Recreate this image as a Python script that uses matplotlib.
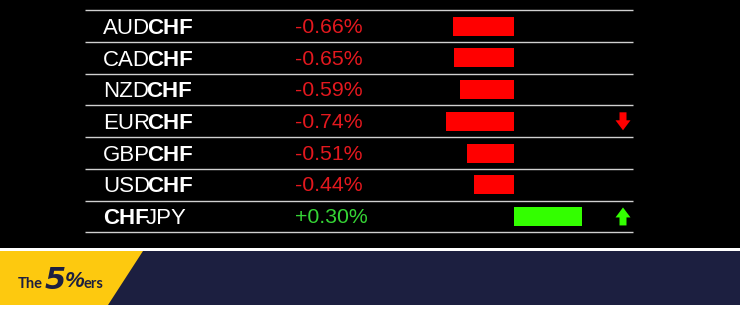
import matplotlib
matplotlib.use("Agg")
import matplotlib.pyplot as plt
from matplotlib.patches import Polygon, Rectangle

# ---- data ----
pairs = ["AUDCHF", "CADCHF", "NZDCHF", "EURCHF", "GBPCHF", "USDCHF", "CHFJPY"]
changes = [-0.66, -0.65, -0.59, -0.74, -0.51, -0.44, 0.30]
bar_values = [-0.66, -0.65, -0.59, -0.74, -0.51, -0.44, 0.74]
arrow_dir = [0, 0, 0, -1, 0, 0, 1]
bold_part = "CHF"

W, H = 740, 309
fig = plt.figure(figsize=(W / 100, H / 100), dpi=100, facecolor="black")
ax = fig.add_axes([0, 0, 1, 1])
ax.set_xlim(0, W)
ax.set_ylim(H, 0)
ax.axis("off")
ax.set_facecolor("black")

FONT = "Liberation Sans"
RED_TXT = "#e3181e"
GRN_TXT = "#35d435"
RED_BAR = "#ff0000"
GRN_BAR = "#33ff00"

top, bottom = 10.3, 232.3
n = len(pairs)
row_h = (bottom - top) / n

# grid lines
for i in range(n + 1):
    y = top + i * row_h
    ax.plot([85, 633], [y, y], color="#d0d0d0", lw=1.0, solid_capstyle="butt")

fig.canvas.draw()
renderer = fig.canvas.get_renderer()
inv = ax.transData.inverted()

def draw_label(x, y, label):
    idx = label.find(bold_part)
    pieces = []
    if idx > 0:
        pieces.append((label[:idx], "normal"))
    pieces.append((bold_part, "bold"))
    if idx + len(bold_part) < len(label):
        pieces.append((label[idx + len(bold_part):], "normal"))
    cx = x
    for txt, wt in pieces:
        t = ax.text(cx, y, txt, color="white", fontsize=16, fontweight=wt,
                    family=FONT, ha="left", va="baseline")
        bb = t.get_window_extent(renderer=renderer)
        cx = inv.transform((bb.x1, bb.y0))[0] - 3

for i, (p, c) in enumerate(zip(pairs, changes)):
    y0 = top + i * row_h
    draw_label(103, y0 + 23.5, p)
    col = GRN_TXT if c > 0 else RED_TXT
    ax.text(295, y0 + 22.5, f"{c:+.2f}%", color=col, fontsize=15.3, family=FONT,
            ha="left", va="baseline")
    d = arrow_dir[i]
    if d != 0:
        ac = RED_BAR if d < 0 else GRN_BAR
        xc, yy = 623, y0 + row_h / 2
        hh = 9
        s = d  # -1 pointing down, +1 up
        pts = [(xc - 3.5, yy + s * hh), (xc + 3.5, yy + s * hh),
               (xc + 3.5, yy + s * 1), (xc + 7.5, yy + s * 1),
               (xc, yy - s * hh), (xc - 7.5, yy + s * 1),
               (xc - 3.5, yy + s * 1)]
        ax.add_patch(Polygon(pts, closed=True, color=ac, lw=0))

# bar axes (data scale in %)
scale = 92.0  # px per 1 %
zero_px = 514
x_lo, x_hi = 420, 608
bax = fig.add_axes([x_lo / W, 1 - bottom / H, (x_hi - x_lo) / W, (bottom - top) / H])
bax.set_xlim((x_lo - zero_px) / scale, (x_hi - zero_px) / scale)
bax.set_ylim(n - 0.5, -0.5)
bax.axis("off")
bax.patch.set_alpha(0)
bax.barh(range(n), bar_values, height=0.6,
         color=[GRN_BAR if v > 0 else RED_BAR for v in bar_values])

# footer banner
ax.add_patch(Rectangle((0, 248), W, 3, color="white", lw=0))
ax.add_patch(Rectangle((0, 251), W, 54, color="#1c1f40", lw=0))
ax.add_patch(Rectangle((0, 305), W, 5, color="white", lw=0))
ax.add_patch(Polygon([(0, 251), (143, 251), (108, 305), (0, 305)], closed=True,
                     color="#fdc90f", lw=0))

NAVY = "#1c1f40"
ax.text(18, 288, "The", color=NAVY, fontsize=10.5, family="Lato", fontweight="bold",
        ha="left", va="baseline")
ax.text(45, 289, "5", color=NAVY, fontsize=22, family="DejaVu Sans",
        fontweight="bold", style="italic", ha="left", va="baseline")
ax.text(65, 287, "%", color=NAVY, fontsize=16, family=FONT,
        fontweight="bold", style="italic", ha="left", va="baseline")
ax.text(83, 288, "ers", color=NAVY, fontsize=10.5, family="Lato", fontweight="bold",
        ha="left", va="baseline")

fig.savefig("out.png", dpi=100, facecolor="black")
